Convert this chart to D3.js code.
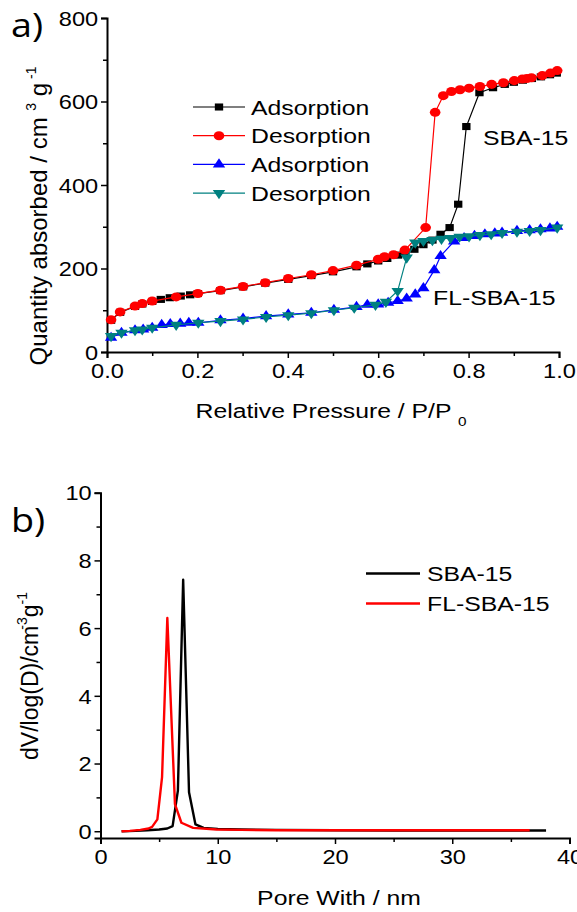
<!DOCTYPE html>
<html>
<head>
<meta charset="utf-8">
<script src="https://cdn.jsdelivr.net/npm/d3@7"></script>
<style>
  html, body { margin: 0; padding: 0; background: #fff; }
  svg { display: block; font-family: "Liberation Sans", Arial, sans-serif; }
</style>
</head>
<body>
<div id="container"></div>
<script>
// panel a) isotherms: relative pressure vs quantity absorbed
const sbaAdsP = [0.009, 0.029, 0.062, 0.078, 0.10, 0.119, 0.139, 0.163, 0.184, 0.201, 0.251, 0.301, 0.35, 0.401, 0.452, 0.50, 0.552, 0.576, 0.60, 0.62, 0.644, 0.66, 0.68, 0.70, 0.72, 0.738, 0.758, 0.777, 0.795, 0.824, 0.854, 0.88, 0.90, 0.92, 0.94, 0.96, 0.98, 0.995];
const sbaAdsQ = [76, 95, 109, 115, 121, 126, 130, 134, 137, 140, 147, 156, 165, 174, 183, 192, 204, 211, 218, 224, 232, 238, 246, 257, 268, 282, 298, 354, 540, 621, 633, 641, 646, 651, 655, 659, 664, 668];

const sbaDesP = [0.996, 0.981, 0.963, 0.939, 0.929, 0.919, 0.901, 0.877, 0.851, 0.825, 0.801, 0.781, 0.762, 0.744, 0.726, 0.705, 0.659, 0.634, 0.614, 0.60, 0.552, 0.50, 0.452, 0.401, 0.35, 0.301, 0.251, 0.201, 0.153, 0.10, 0.078, 0.062, 0.029, 0.009];
const sbaDesQ = [674, 668, 662, 657, 655, 654, 650, 645, 641, 636, 632, 628, 624, 614, 574, 298, 244, 233, 228, 222, 208, 195, 185, 176, 166, 157, 148, 140, 132, 122, 116, 110, 96, 77];

const flAdsP = [0.009, 0.032, 0.062, 0.08, 0.10, 0.121, 0.14, 0.162, 0.181, 0.202, 0.251, 0.301, 0.352, 0.401, 0.452, 0.502, 0.552, 0.576, 0.60, 0.622, 0.643, 0.663, 0.682, 0.70, 0.724, 0.738, 0.768, 0.79, 0.813, 0.836, 0.858, 0.874, 0.907, 0.935, 0.959, 0.98, 0.996];
const flAdsQ = [34, 46, 52, 54, 58, 65, 67, 68, 70, 70, 76, 80, 86, 90, 94, 101, 108, 113, 114, 118, 122, 128, 138, 153, 196, 230, 265, 273, 278, 282, 284, 286, 290, 292, 294, 296, 300];

const flDesP = [0.996, 0.959, 0.935, 0.907, 0.874, 0.85, 0.825, 0.801, 0.78, 0.76, 0.74, 0.72, 0.70, 0.682, 0.663, 0.643, 0.617, 0.594, 0.547, 0.502, 0.452, 0.401, 0.352, 0.301, 0.251, 0.202, 0.153, 0.10, 0.078, 0.062, 0.032, 0.009];
const flDesQ = [298, 292, 290, 288, 285, 282, 280, 277, 276, 273, 271, 268, 266, 262, 226, 146, 120, 113, 106, 100, 93, 88, 84, 78, 74, 70, 65, 58, 54, 52, 46, 38];

const isoNames = ["Adsorption", "Desorption", "Adsorption", "Desorption"];
const isoColors = ["#000000", "#ff0000", "#0000ff", "#008080"];
const isoSymbols = ["square", "circle", "triangleUp", "triangleDown"];

const xTicksA = [0, 0.2, 0.4, 0.6, 0.8, 1.0];
const xMinorA = [0.1, 0.3, 0.5, 0.7, 0.9];
const yTicksA = [0, 200, 400, 600, 800];
const yMinorA = [100, 300, 500, 700];

// panel b) pore size distribution
const sbaPoreW = [1.8, 3, 4, 5, 5.7, 6.15, 6.6, 7.05, 7.55, 8.1, 8.8, 10, 12, 15, 20, 25, 30, 38];
const sbaPoreV = [0, 0.01, 0.03, 0.05, 0.08, 0.15, 1.2, 7.43, 1.15, 0.2, 0.1, 0.07, 0.05, 0.04, 0.03, 0.02, 0.02, 0.02];
const flPoreW = [1.8, 2.5, 3.4, 4.1, 4.4, 4.85, 5.25, 5.7, 6.35, 6.9, 7.9, 9.9, 12, 15, 20, 25, 30, 36.6];
const flPoreV = [0, 0.01, 0.04, 0.08, 0.13, 0.35, 1.6, 6.3, 0.8, 0.25, 0.1, 0.05, 0.04, 0.03, 0.03, 0.03, 0.03, 0.03];

const psdNames = ["SBA-15", "FL-SBA-15"];
const psdColors = ["#000000", "#ff0000"];

const xTicksB = [0, 10, 20, 30, 40];
const xMinorB = [5, 15, 25, 35];
const yTicksB = [0, 2, 4, 6, 8, 10];
const yMinorB = [1, 3, 5, 7, 9];

const width = 577, height = 912;
// horizontal text in the original is wider than its height suggests
const sx = 1.18;

const svg = d3.select("#container").append("svg")
  .attr("width", width)
  .attr("height", height)
  .attr("viewBox", [0, 0, width, height]);

// text stretched horizontally, anchored at (x, y)
function label(x, y, size, anchor = "start") {
  return svg.append("g")
    .attr("transform", `translate(${x}, ${y}) scale(${sx}, 1)`)
    .append("text")
    .attr("font-size", size)
    .attr("text-anchor", anchor);
}

function drawAxes(x, y, xt, xm, yt, ym, xFmt, yFmt, y0) {
  const gx = svg.append("g")
    .attr("transform", `translate(0, ${y0})`)
    .call(d3.axisBottom(x).tickValues(xt).tickSize(6).tickPadding(6).tickFormat(xFmt));
  svg.append("g")
    .attr("transform", `translate(0, ${y0})`)
    .call(d3.axisBottom(x).tickValues(xm).tickSize(4).tickFormat(""))
    .call((g) => g.select(".domain").remove());
  const gy = svg.append("g")
    .attr("transform", `translate(${x.range()[0]}, 0)`)
    .call(d3.axisLeft(y).tickValues(yt).tickSize(6).tickPadding(1.5).tickFormat(yFmt));
  svg.append("g")
    .attr("transform", `translate(${x.range()[0]}, 0)`)
    .call(d3.axisLeft(y).tickValues(ym).tickSize(4).tickFormat(""))
    .call((g) => g.select(".domain").remove());
  svg.selectAll(".domain").attr("stroke-width", 2);
  svg.selectAll(".tick line").attr("stroke-width", 1.5);
  [gx, gy].forEach((g) =>
    g.selectAll("text")
      .attr("font-size", 20)
      .attr("fill", "#000")
      .attr("font-family", "Liberation Sans, Arial, sans-serif")
      .attr("transform", `scale(${sx}, 1)`)
  );
  gy.selectAll(".tick text").attr("dy", "0.36em");
}

/* ---------- panel a ---------- */
const xA = d3.scaleLinear([0, 1], [107, 559]);
const yA = d3.scaleLinear([0, 800], [352, 18]);

drawAxes(xA, yA, xTicksA, xMinorA, yTicksA, yMinorA, d3.format(".1f"), d3.format("d"), yA(0));

const isoSeries = [
  [sbaAdsP, sbaAdsQ],
  [sbaDesP, sbaDesQ],
  [flAdsP, flAdsQ],
  [flDesP, flDesQ]
];

const symbolMap = {
  square: d3.symbol(d3.symbolSquare, 50),
  circle: d3.symbol(d3.symbolCircle, 64),
  triangleUp: d3.symbol(d3.symbolTriangle, 48),
  triangleDown: d3.symbol(d3.symbolTriangle, 48)
};

const isoLine = d3.line().x((d) => xA(d[0])).y((d) => yA(d[1]));

function markerTransform(k, px, py) {
  return `translate(${px}, ${py}) scale(${sx}, 1)${isoSymbols[k] === "triangleDown" ? " rotate(180)" : ""}`;
}

isoSeries.forEach(([P, Q], k) => {
  const pts = d3.zip(P, Q);
  svg.append("path")
    .datum(pts)
    .attr("fill", "none")
    .attr("stroke", isoColors[k])
    .attr("stroke-width", 1.2)
    .attr("d", isoLine);
  svg.append("g")
    .selectAll("path")
    .data(pts)
    .join("path")
    .attr("transform", (d) => markerTransform(k, xA(d[0]), yA(d[1])))
    .attr("d", symbolMap[isoSymbols[k]]())
    .attr("fill", isoColors[k]);
});

// legend a
isoNames.forEach((name, k) => {
  const yy = 107 + k * 28.7;
  svg.append("line")
    .attr("x1", 193).attr("x2", 245).attr("y1", yy).attr("y2", yy)
    .attr("stroke", isoColors[k]).attr("stroke-width", 1.2);
  svg.append("path")
    .attr("transform", markerTransform(k, 219, yy))
    .attr("d", symbolMap[isoSymbols[k]]())
    .attr("fill", isoColors[k]);
  label(251, yy, 21).attr("dy", "0.36em").text(name);
});

label(483, 145, 21).text("SBA-15");
label(433, 305, 21).text("FL-SBA-15");

// axis titles a
label(331, 418, 21, "middle")
  .call((t) => {
    t.append("tspan").text("Relative Pressure / P/P ");
    t.append("tspan").attr("font-size", 13).attr("dy", 8).text("0");
  });

svg.append("text")
  .attr("transform", "translate(47, 216) rotate(-90)")
  .attr("text-anchor", "middle")
  .attr("font-size", 24)
  .call((t) => {
    t.append("tspan").text("Quantity absorbed / cm ");
    t.append("tspan").attr("font-size", 14).attr("dy", -11).text("3");
    t.append("tspan").attr("dy", 11).text(" g");
    t.append("tspan").attr("font-size", 14).attr("dy", -11).text(" -1");
  });

label(11, 37, 32)
  .attr("font-family", "Open Sans, sans-serif")
  .text("a)");

/* ---------- panel b ---------- */
const xB = d3.scaleLinear([0, 40], [100.5, 569.5]);
const yB = d3.scaleLinear([-0.2, 10], [838, 492.7]);

drawAxes(xB, yB, xTicksB, xMinorB, yTicksB, yMinorB, d3.format("d"), d3.format("d"), 838);

const psdLine = d3.line().x((d) => xB(d[0])).y((d) => yB(d[1]));

[[sbaPoreW, sbaPoreV], [flPoreW, flPoreV]].forEach(([W, V], k) => {
  svg.append("path")
    .datum(d3.zip(W, V))
    .attr("fill", "none")
    .attr("stroke", psdColors[k])
    .attr("stroke-width", 2.4)
    .attr("stroke-linejoin", "round")
    .attr("d", psdLine);
});

psdNames.forEach((name, k) => {
  const yy = 573.5 + k * 30;
  svg.append("line")
    .attr("x1", 366).attr("x2", 420).attr("y1", yy).attr("y2", yy)
    .attr("stroke", psdColors[k]).attr("stroke-width", 2.4);
  label(427, yy, 21).attr("dy", "0.36em").text(name);
});

label(339, 905, 21, "middle").text("Pore With / nm");

svg.append("text")
  .attr("transform", "translate(38, 676) rotate(-90)")
  .attr("text-anchor", "middle")
  .attr("font-size", 23)
  .call((t) => {
    t.append("tspan").text("dV/log(D)/cm");
    t.append("tspan").attr("font-size", 14).attr("dx", -4).attr("dy", -11).text("-3");
    t.append("tspan").attr("dy", 11).text("g");
    t.append("tspan").attr("font-size", 14).attr("dy", -11).text("-1");
  });

label(11, 532, 32)
  .attr("font-family", "Open Sans, sans-serif")
  .text("b)");
</script>
</body>
</html>
